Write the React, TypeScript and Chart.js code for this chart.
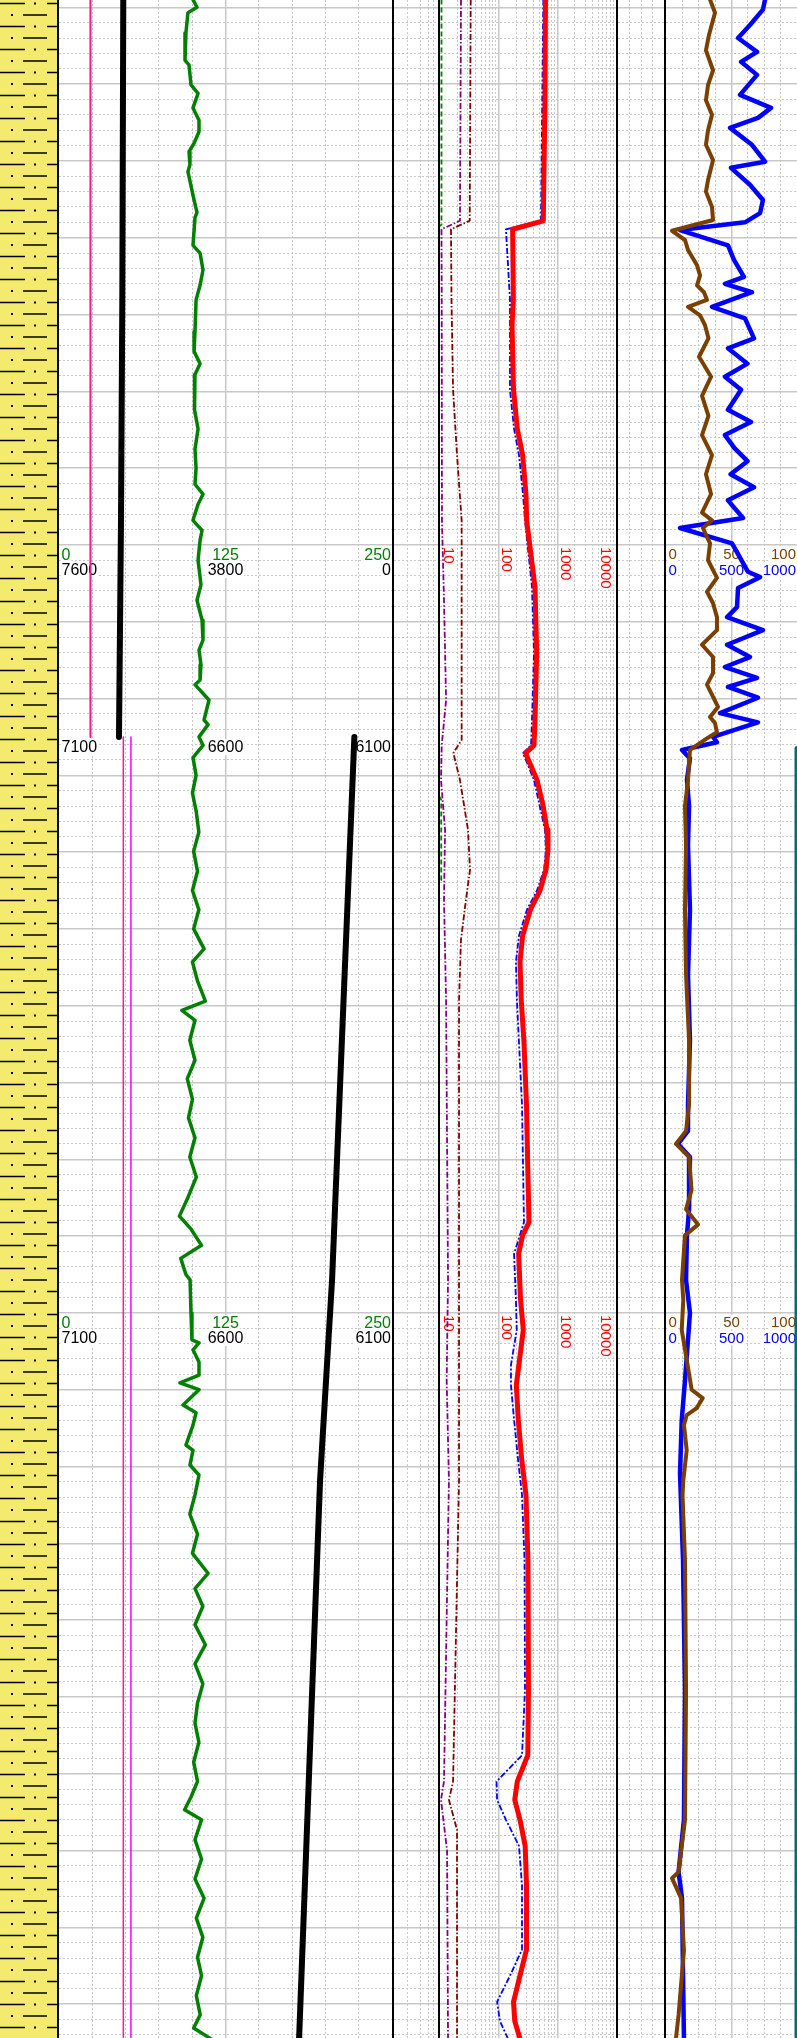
import React, { useEffect, useRef } from 'react';
import { Chart, registerables } from 'chart.js';

Chart.register(...registerables);

// ---------- frame ----------
const H = 2038;
const FONT = '"Liberation Sans", Arial, Helvetica, sans-serif';
const GRID = '#c8c8c8';

const DEPTH_TOP = 5029.05;
const DEPTH_BOT = 5294.41;
const HEADER_DEPTHS = [5100, 5200];
const WRAP_DEPTH = 5125;

// ---------- lithology ----------
const LITH_NAME = ['Shaly sand'];
const LITH_TOP = [5029.05];
const LITH_BOT = [5294.41];

// ---------- track 1 : GR ----------
const GR_TICKS = [0, 125, 250];
const GR_DEPTH = [5029.0, 5030.0, 5030.7, 5033.3, 5036.9, 5037.5, 5040.1, 5041.2, 5043.1, 5044.7,
  5046.2, 5047.7, 5048.8, 5050.5, 5051.4, 5055.1, 5056.7, 5057.4, 5061.0, 5062.0,
  5064.2, 5066.2, 5068.1, 5072.2, 5074.8, 5076.4, 5077.8, 5079.8, 5082.4, 5084.9,
  5087.5, 5090.0, 5092.1, 5093.4, 5094.7, 5096.8, 5098.1, 5099.4, 5102.0, 5105.2,
  5107.2, 5109.8, 5112.4, 5113.7, 5115.6, 5117.6, 5118.2, 5120.2, 5122.8, 5123.4,
  5125.0, 5126.1, 5127.7, 5130.0, 5132.3, 5134.8, 5137.4, 5139.9, 5142.5, 5145.0,
  5147.5, 5150.0, 5152.6, 5154.3, 5156.8, 5159.4, 5160.6, 5161.9, 5164.5, 5167.1,
  5169.5, 5172.2, 5174.6, 5177.2, 5179.7, 5182.3, 5184.8, 5187.4, 5189.1, 5191.2,
  5192.9, 5195.0, 5195.7, 5200.0, 5203.5, 5203.9, 5204.8, 5206.4, 5208.1, 5209.1,
  5210.0, 5212.0, 5213.0, 5214.6, 5217.2, 5217.9, 5219.8, 5221.1, 5223.7, 5226.2,
  5228.8, 5231.3, 5233.9, 5235.9, 5238.2, 5240.6, 5243.2, 5245.7, 5248.3, 5250.8,
  5253.4, 5255.9, 5258.5, 5261.0, 5263.0, 5264.7, 5266.0, 5268.6, 5271.1, 5273.7,
  5276.2, 5278.8, 5281.3, 5283.9, 5286.3, 5288.9, 5291.4, 5293.1, 5294.5];
const GR_API = [100.6, 103.6, 96.8, 95.3, 94.6, 97.6, 99.1, 104.4, 100.6, 105.1,
  105.1, 101.4, 97.6, 98.3, 96.8, 101.4, 103.6, 102.1, 100.6, 105.9,
  108.1, 105.9, 102.9, 102.1, 101.4, 105.9, 102.1, 102.1, 101.4, 104.4,
  102.1, 102.9, 102.1, 108.1, 104.4, 100.6, 107.4, 105.9, 104.4, 106.6,
  103.6, 107.4, 108.1, 105.1, 106.6, 105.9, 102.1, 112.6, 108.9, 111.9,
  105.1, 108.1, 100.6, 102.9, 100.2, 103.1, 105.0, 101.1, 104.0, 100.2,
  105.0, 101.1, 108.9, 100.2, 104.0, 109.9, 92.3, 102.1, 98.2, 102.1,
  96.3, 100.2, 97.2, 102.1, 98.2, 103.1, 97.2, 90.4, 99.2, 107.0,
  91.4, 95.3, 98.4, 99.1, 99.8, 105.1, 100.6, 105.1, 105.1, 90.8,
  105.1, 93.1, 102.9, 100.6, 95.3, 100.6, 98.3, 105.1, 102.1, 98.2,
  104.0, 100.2, 111.9, 102.1, 108.0, 102.1, 109.9, 102.1, 108.0, 104.0,
  102.1, 105.0, 101.1, 104.0, 99.2, 94.3, 107.0, 102.1, 107.0, 102.1,
  108.9, 103.1, 108.0, 104.0, 107.0, 103.1, 106.0, 101.1, 113.8];

const PINK_A_DEPTH = [5029.0, 5125.0];
const PINK_A = [23.6, 23.6];
const PINK_B_DEPTH = [5125.0, 5294.5];
const PINK_B = [48.3, 48.3];
const MAG_DEPTH = [5125.0, 5294.5];
const MAG = [54.0, 54.0];

const BLK1_TICKS = [7600, 3800, 0];
const BLK1_DEPTH = [5029.0, 5068.1, 5096.8, 5125.0];
const BLK1 = [6133, 6155, 6185, 6231];
const BLK2_TICKS = [7100, 6600, 6100];
const BLK2_DEPTH = [5125.0, 5195.7, 5221.8, 5294.5];
const BLK2 = [6213, 6280, 6316, 6379];

// ---------- track 3 : resistivity ----------
const RES_TICKS = [10, 100, 1000, 10000];
const RT_DEPTH = [5029.0, 5042.1, 5057.8, 5058.9, 5068.1, 5071.4, 5079.8, 5084.9, 5088.3, 5093.4,
  5096.8, 5105.5, 5114.1, 5122.8, 5126.1, 5127.1, 5130.6, 5133.9, 5137.1, 5139.7,
  5142.3, 5145.0, 5147.5, 5150.9, 5154.3, 5159.4, 5164.5, 5172.9, 5181.4, 5188.2,
  5189.9, 5192.3, 5198.3, 5202.2, 5209.4, 5213.9, 5219.1, 5223.7, 5232.2, 5249.1,
  5257.6, 5261.0, 5263.4, 5266.0, 5269.4, 5274.5, 5282.9, 5286.3, 5289.7, 5292.2, 5294.5];
const RT = [628, 616, 576, 173, 178, 169, 179, 208, 256, 292,
  300, 416, 445, 416, 400, 287, 450, 570, 667, 693,
  641, 506, 347, 256, 231, 243, 269, 298, 314, 329,
  256, 219, 236, 263, 200, 216, 247, 292, 316, 322,
  314, 208, 188, 231, 283, 298, 298, 231, 179, 188, 231];
const RS_DEPTH = [5029.0, 5057.8, 5058.9, 5068.1, 5079.8, 5084.9, 5088.3, 5093.4, 5096.8, 5105.5,
  5114.1, 5122.8, 5126.1, 5127.1, 5130.6, 5137.1, 5139.7, 5142.3, 5145.0, 5147.5,
  5150.9, 5154.3, 5159.4, 5172.9, 5188.2, 5192.3, 5198.3, 5202.2, 5206.8, 5209.4,
  5213.9, 5219.1, 5223.7, 5232.2, 5249.1, 5257.6, 5261.0, 5263.4, 5266.0, 5269.4,
  5274.5, 5282.9, 5286.3, 5289.7, 5292.2, 5294.5];
const RS = [577, 526, 133, 156, 156, 183, 222, 260, 281, 370,
  400, 370, 356, 260, 400, 616, 641, 593, 450, 304,
  222, 197, 205, 250, 270, 183, 197, 203, 162, 162,
  183, 214, 250, 276, 281, 250, 92, 94, 133, 222,
  250, 250, 156, 94, 105, 144];
const RXO_DEPTH = [5029.0, 5057.8, 5058.9, 5068.1, 5079.8, 5088.3, 5096.8, 5125.4, 5127.1, 5130.6,
  5137.1, 5142.3, 5146.2, 5151.4, 5159.3, 5195.7, 5221.8, 5261.0, 5263.4, 5267.3, 5294.5];
const RXO = [33.4, 32.1, 15.4, 15.7, 16.7, 19.5, 23.4, 23.4, 16.9, 21.9,
  30.0, 32.5, 27.7, 22.8, 21.1, 21.1, 21.1, 16.7, 14.2, 19.5, 19.5];
const RMF_DEPTH = [5029.0, 5057.8, 5058.9, 5068.1, 5096.8, 5107.2, 5120.2, 5126.1, 5130.6, 5137.1,
  5146.2, 5159.3, 5195.7, 5208.8, 5221.8, 5261.0, 5263.4, 5270.0, 5294.5];
const RMF = [22.8, 21.9, 10.6, 10.7, 10.8, 11.7, 12.7, 10.7, 10.4, 12.2,
  11.7, 12.7, 13.7, 13.0, 14.2, 11.7, 10.4, 13.2, 13.7];
const RG_DEPTH = [5029.0, 5058.3, 5058.9, 5131.9, 5133.2, 5143.6, 5145.0, 5294.5];
const RG = [10.6, 10.6, 8.5, 8.5, 10.5, 10.5, 8.5, 8.5];

// ---------- track 5 ----------
const BR_TICKS = [0, 50, 100];
const BL_TICKS = [0, 500, 1000];
const BR_DEPTH = [5029.0, 5030.7, 5033.6, 5035.6, 5038.2, 5040.1, 5042.1, 5044.0, 5046.0, 5047.9,
  5049.9, 5052.5, 5054.0, 5056.0, 5057.7, 5059.1, 5060.3, 5061.6, 5063.6, 5064.9,
  5066.2, 5067.1, 5068.1, 5069.0, 5070.1, 5071.4, 5073.1, 5075.5, 5078.1, 5080.6,
  5083.2, 5085.7, 5088.3, 5090.8, 5093.4, 5095.8, 5096.8, 5097.8, 5099.8, 5102.0,
  5104.3, 5106.1, 5107.6, 5109.4, 5111.1, 5113.0, 5114.6, 5116.7, 5118.2, 5121.1,
  5122.4, 5123.2, 5124.4, 5125.1, 5126.7, 5130.6, 5134.0, 5139.1, 5147.5, 5156.0,
  5164.5, 5172.9, 5176.3, 5178.0, 5179.7, 5184.0, 5186.5, 5188.5, 5189.9, 5195.7,
  5198.3, 5202.2, 5206.1, 5210.0, 5211.1, 5212.4, 5213.3, 5214.6, 5217.9, 5221.8,
  5223.7, 5232.2, 5249.1, 5266.0, 5272.8, 5273.6, 5276.2, 5283.0, 5291.4, 5294.5];
const BR = [33.6, 37.4, 32.8, 30.5, 35.9, 32.1, 30.5, 35.1, 32.1, 30.5,
  35.9, 32.1, 30.5, 35.1, 35.9, 4.6, 14.5, 16.8, 23.7, 26.0,
  23.7, 29.0, 31.3, 16.8, 26.0, 29.8, 32.4, 25.2, 34.4, 27.5,
  32.4, 27.5, 35.1, 30.5, 34.4, 27.5, 35.1, 28.2, 33.6, 32.1,
  38.9, 31.3, 35.9, 38.9, 38.9, 27.5, 35.9, 35.9, 31.3, 39.7,
  33.6, 37.4, 38.9, 32.1, 18.3, 16.8, 14.5, 15.3, 14.5, 15.3,
  17.6, 17.6, 15.3, 7.6, 17.6, 19.5, 15.3, 24.4, 14.5, 12.2,
  13.2, 12.0, 15.8, 19.6, 28.0, 23.4, 15.8, 13.7, 15.8, 13.2,
  12.6, 14.5, 15.3, 14.5, 9.6, 4.6, 11.5, 13.7, 9.6, 7.6];
const BL_DEPTH = [5029.0, 5030.3, 5032.3, 5034.0, 5035.8, 5037.1, 5038.8, 5041.4, 5043.1, 5044.4,
  5045.7, 5047.9, 5050.1, 5050.9, 5053.1, 5055.1, 5056.8, 5058.0, 5059.0, 5061.0,
  5062.9, 5065.1, 5066.0, 5067.1, 5069.0, 5070.5, 5073.1, 5074.4, 5076.4, 5078.1,
  5079.8, 5082.4, 5084.0, 5085.7, 5087.4, 5089.1, 5090.8, 5092.5, 5094.2, 5096.5,
  5097.8, 5099.8, 5103.5, 5104.2, 5105.6, 5108.1, 5109.4, 5111.1, 5113.0, 5114.6,
  5115.9, 5117.3, 5118.5, 5119.9, 5121.9, 5123.1, 5125.0, 5125.7, 5126.7, 5127.8,
  5130.6, 5134.0, 5139.1, 5147.5, 5156.0, 5164.5, 5172.9, 5176.3, 5178.0, 5179.7,
  5186.5, 5189.9, 5195.7, 5200.0, 5208.8, 5214.0, 5220.9, 5232.2, 5249.1, 5266.0,
  5272.8, 5276.2, 5294.5];
const BL = [756, 740, 641, 550, 695, 573, 695, 565, 802, 702,
  489, 656, 756, 496, 641, 740, 718, 603, 107, 473,
  519, 595, 450, 656, 351, 603, 672, 473, 622, 450,
  573, 473, 649, 450, 523, 622, 493, 672, 473, 588,
  107, 504, 626, 718, 550, 542, 466, 740, 466, 641,
  450, 695, 473, 702, 412, 702, 359, 389, 122, 183,
  160, 176, 168, 183, 168, 183, 168, 168, 92, 183,
  176, 160, 153, 183, 145, 120, 107, 130, 145, 137,
  96, 122, 137];
const TEAL_DEPTH = [5126.5, 5294.5];
const TEAL = [100, 100];

// ---------- helpers ----------
const pts = (d: number[], v: number[]) => d.map((y, i) => ({ x: v[i], y }));

function depthScales() {
  const minor: number[] = [];
  const major: number[] = [];
  for (let d = Math.ceil(DEPTH_TOP / 2) * 2; d <= DEPTH_BOT; d += 2) (d % 10 === 0 ? major : minor).push(d);
  const base = { type: 'linear', reverse: true, min: DEPTH_TOP, max: DEPTH_BOT, bounds: 'data', position: 'left', ticks: { display: false } };
  return {
    y: { ...base, afterBuildTicks: (s: any) => { s.ticks = minor.map((value) => ({ value })); },
      grid: { color: GRID, lineWidth: 1, drawTicks: false }, border: { display: false, dash: [2, 2] } },
    yMajor: { ...base, afterBuildTicks: (s: any) => { s.ticks = major.map((value) => ({ value })); },
      grid: { color: GRID, lineWidth: 1.5, drawTicks: false }, border: { display: false } },
  };
}

function xGrid(type: string, min: number, max: number, minor: number[], major: number[]) {
  const base = { type, min, max, bounds: 'data', position: 'top', ticks: { display: false } };
  const s: any = {
    x: { ...base, afterBuildTicks: (sc: any) => { sc.ticks = minor.map((value) => ({ value })); },
      grid: { color: GRID, lineWidth: 1, drawTicks: false }, border: { display: false, dash: [2, 2] } },
  };
  if (major.length) {
    s.xMajor = { ...base, afterBuildTicks: (sc: any) => { sc.ticks = major.map((value) => ({ value })); },
      grid: { color: GRID, lineWidth: 1.5, drawTicks: false }, border: { display: false } };
  }
  return s;
}

function hiddenX(min: number, max: number, reverse = false) {
  return { type: 'linear', min, max, reverse, bounds: 'data', display: false };
}

function line(data: any[], axis: string, color: string, width: number, dash: number[] = []) {
  return {
    data, xAxisID: axis, yAxisID: 'y', borderColor: color, backgroundColor: color, borderWidth: width,
    borderDash: dash, pointRadius: 0, tension: 0, fill: false, clip: 0,
    borderJoinStyle: 'round', borderCapStyle: dash.length ? 'butt' : 'round',
  };
}

type Row = { depth: number; dy: number; axis: string; ticks: number[]; color: string; size: number };

function headerPlugin(rows: Row[]) {
  return {
    id: 'headers',
    beforeDatasetsDraw(chart: any) {
      const { ctx, chartArea: a, scales } = chart;
      ctx.save();
      for (const r of rows) {
        const cy = scales.y.getPixelForValue(r.depth) + r.dy;
        const base = cy + 0.358 * r.size;
        ctx.font = `${r.size}px ${FONT}`;
        ctx.textBaseline = 'alphabetic';
        ctx.textAlign = 'left';
        r.ticks.forEach((t, i) => {
          const s = String(t);
          const w = ctx.measureText(s).width;
          const px = scales[r.axis].getPixelForValue(t);
          const left = i === 0 ? a.left + 2.5 : i === r.ticks.length - 1 ? a.right - w - 1 : px - w / 2;
          ctx.fillStyle = '#ffffff';
          ctx.fillRect(left - 1, base - 0.8 * r.size, w + 2, 0.98 * r.size);
          ctx.fillStyle = r.color;
          ctx.fillText(s, left, base);
        });
      }
      ctx.restore();
    },
  };
}

function rotatedPlugin(depths: number[], ticks: number[], color: string, size: number) {
  return {
    id: 'rotHeaders',
    beforeDatasetsDraw(chart: any) {
      const { ctx, scales } = chart;
      ctx.save();
      ctx.font = `${size}px ${FONT}`;
      ctx.textBaseline = 'alphabetic';
      ctx.textAlign = 'left';
      for (const d of depths) {
        const top = scales.y.getPixelForValue(d) + 2;
        ticks.forEach((t, i) => {
          const s = String(t);
          const px = scales.x.getPixelForValue(t);
          const cx = i === ticks.length - 1 ? px - 9.5 : px + 9;
          const w = ctx.measureText(s).width;
          ctx.save();
          ctx.translate(cx, top);
          ctx.rotate(Math.PI / 2);
          ctx.fillStyle = '#ffffff';
          ctx.fillRect(-1, -0.45 * size, w + 2, 0.9 * size);
          ctx.fillStyle = color;
          ctx.fillText(s, 0, 0.358 * size);
          ctx.restore();
        });
      }
      ctx.restore();
    },
  };
}

const baseOptions = {
  responsive: false,
  maintainAspectRatio: false,
  animation: false,
  events: [],
  indexAxis: 'y',
  layout: { padding: 0 },
  plugins: { legend: { display: false }, tooltip: { enabled: false } },
};

// ---------- chart builders ----------
function buildLith() {
  const c = document.createElement('canvas');
  c.width = 57;
  c.height = 23;
  const g = c.getContext('2d')!;
  g.fillStyle = '#f4ea6e';
  g.fillRect(0, 0, 57, 23);
  g.strokeStyle = '#000';
  g.lineWidth = 1.5;
  g.beginPath();
  g.moveTo(0, 3.5); g.lineTo(25, 3.5);
  g.moveTo(47, 3.5); g.lineTo(57, 3.5);
  g.moveTo(23, 15); g.lineTo(47, 15);
  g.stroke();
  g.fillStyle = '#000';
  g.fillRect(34, 2.5, 2, 2);
  g.fillRect(11, 14, 2, 2);
  const pattern = g.createPattern(c, 'repeat');
  return {
    type: 'bar',
    data: {
      labels: LITH_NAME,
      datasets: [{ data: LITH_TOP.map((t, i) => [t, LITH_BOT[i]]), backgroundColor: pattern, borderWidth: 0, barPercentage: 1, categoryPercentage: 1 }],
    },
    options: {
      responsive: false, maintainAspectRatio: false, animation: false, events: [],
      layout: { padding: 0 },
      plugins: { legend: { display: false }, tooltip: { enabled: false } },
      scales: {
        x: { type: 'category', display: false },
        y: { type: 'linear', reverse: true, min: DEPTH_TOP, max: DEPTH_BOT, display: false },
      },
    },
  };
}

function buildTrack1() {
  return {
    type: 'line',
    data: {
      datasets: [
        line(pts(GR_DEPTH, GR_API), 'x', '#008000', 3.5),
        line(pts(BLK1_DEPTH, BLK1), 'xBlk1', '#000000', 6),
        line(pts(BLK2_DEPTH, BLK2), 'xBlk2', '#000000', 6),
        line(pts(PINK_A_DEPTH, PINK_A), 'x', '#ff1493', 2),
        line(pts(PINK_B_DEPTH, PINK_B), 'x', '#ff1493', 1.5),
        line(pts(MAG_DEPTH, MAG), 'x', '#ff00ff', 1.5),
      ],
    },
    options: {
      ...baseOptions,
      scales: {
        ...depthScales(),
        ...xGrid('linear', 0, 250, [25, 50, 75, 100, 150, 175, 200, 225], [125]),
        xBlk1: hiddenX(0, 7600, true),
        xBlk2: hiddenX(6100, 7100, true),
      },
    },
    plugins: [headerPlugin([
      { depth: HEADER_DEPTHS[0], dy: 9, axis: 'x', ticks: GR_TICKS, color: '#008000', size: 16 },
      { depth: HEADER_DEPTHS[0], dy: 24.5, axis: 'xBlk1', ticks: BLK1_TICKS, color: '#000000', size: 16 },
      { depth: WRAP_DEPTH, dy: 9.5, axis: 'xBlk2', ticks: BLK2_TICKS, color: '#000000', size: 16 },
      { depth: HEADER_DEPTHS[1], dy: 9, axis: 'x', ticks: GR_TICKS, color: '#008000', size: 16 },
      { depth: HEADER_DEPTHS[1], dy: 24.5, axis: 'xBlk2', ticks: BLK2_TICKS, color: '#000000', size: 16 },
    ])],
  };
}

function buildTrack2() {
  return {
    type: 'line',
    data: { datasets: [] },
    options: { ...baseOptions, scales: { ...depthScales(), ...xGrid('logarithmic', 1, 10, [2, 4, 6, 8], []) } },
  };
}

function buildTrack3() {
  return {
    type: 'line',
    data: {
      datasets: [
        line(pts(RT_DEPTH, RT), 'x', '#ff0000', 5),
        line(pts(RS_DEPTH, RS), 'x', '#0000ff', 1.8, [6, 2, 2, 2]),
        line(pts(RXO_DEPTH, RXO), 'x', '#800000', 1.8, [6, 2, 1.5, 2]),
        line(pts(RMF_DEPTH, RMF), 'x', '#800080', 1.8, [6, 2, 1.5, 2]),
        line(pts(RG_DEPTH, RG), 'x', '#008000', 1.8, [5, 3]),
      ],
    },
    options: {
      ...baseOptions,
      scales: {
        ...depthScales(),
        ...xGrid('logarithmic', 10, 10000,
          [20, 30, 40, 50, 60, 70, 80, 90, 200, 300, 400, 500, 600, 700, 800, 900, 2000, 3000, 4000, 5000, 6000, 7000, 8000, 9000],
          [100, 1000]),
      },
    },
    plugins: [rotatedPlugin(HEADER_DEPTHS, RES_TICKS, '#ff0000', 15)],
  };
}

function buildTrack4() {
  return {
    type: 'line',
    data: { datasets: [] },
    options: { ...baseOptions, scales: { ...depthScales(), ...xGrid('linear', 0, 4, [1, 2, 3], []) } },
  };
}

function buildTrack5() {
  return {
    type: 'line',
    data: {
      datasets: [
        line(pts(BR_DEPTH, BR), 'x', '#7b3f00', 4),
        line(pts(BL_DEPTH, BL), 'xBlue', '#0000ff', 4.5),
        line(pts(TEAL_DEPTH, TEAL), 'x', '#0b6b6b', 5),
      ],
    },
    options: {
      ...baseOptions,
      scales: {
        ...depthScales(),
        ...xGrid('linear', 0, 100, [12.5, 25, 37.5, 62.5, 75, 87.5], [50]),
        xBlue: hiddenX(0, 1000),
      },
    },
    plugins: [headerPlugin([
      { depth: HEADER_DEPTHS[0], dy: 8.5, axis: 'x', ticks: BR_TICKS, color: '#7b3f00', size: 15 },
      { depth: HEADER_DEPTHS[0], dy: 24.5, axis: 'xBlue', ticks: BL_TICKS, color: '#0000ff', size: 15 },
      { depth: HEADER_DEPTHS[1], dy: 8.5, axis: 'x', ticks: BR_TICKS, color: '#7b3f00', size: 15 },
      { depth: HEADER_DEPTHS[1], dy: 24.5, axis: 'xBlue', ticks: BL_TICKS, color: '#0000ff', size: 15 },
    ])],
  };
}

// ---------- components ----------
function ChartCanvas({ left, width, build }: { left: number; width: number; build: () => any }) {
  const ref = useRef<HTMLCanvasElement>(null);
  useEffect(() => {
    const chart = new Chart(ref.current as HTMLCanvasElement, build());
    return () => chart.destroy();
  }, []);
  return (
    <canvas ref={ref} width={width} height={H}
      style={{ position: 'absolute', left, top: 0, width, height: H, display: 'block' }} />
  );
}

const TRACKS = [
  { left: 0, width: 57, build: buildLith },
  { left: 59, width: 333, build: buildTrack1 },
  { left: 394, width: 44, build: buildTrack2 },
  { left: 440, width: 176, build: buildTrack3 },
  { left: 618, width: 46, build: buildTrack4 },
  { left: 666, width: 131, build: buildTrack5 },
];
const BORDERS = [57, 392, 438, 616, 664];

export default function App() {
  useEffect(() => {
    document.body.style.margin = '0';
  }, []);
  return (
    <div style={{ position: 'relative', width: 797, height: H, overflow: 'hidden', background: '#ffffff' }}>
      <style>{'body{margin:0}'}</style>
      {TRACKS.map((t, i) => (
        <ChartCanvas key={i} left={t.left} width={t.width} build={t.build} />
      ))}
      {BORDERS.map((x) => (
        <div key={x} style={{ position: 'absolute', left: x, top: 0, width: 2, height: H, background: '#000000' }} />
      ))}
    </div>
  );
}
